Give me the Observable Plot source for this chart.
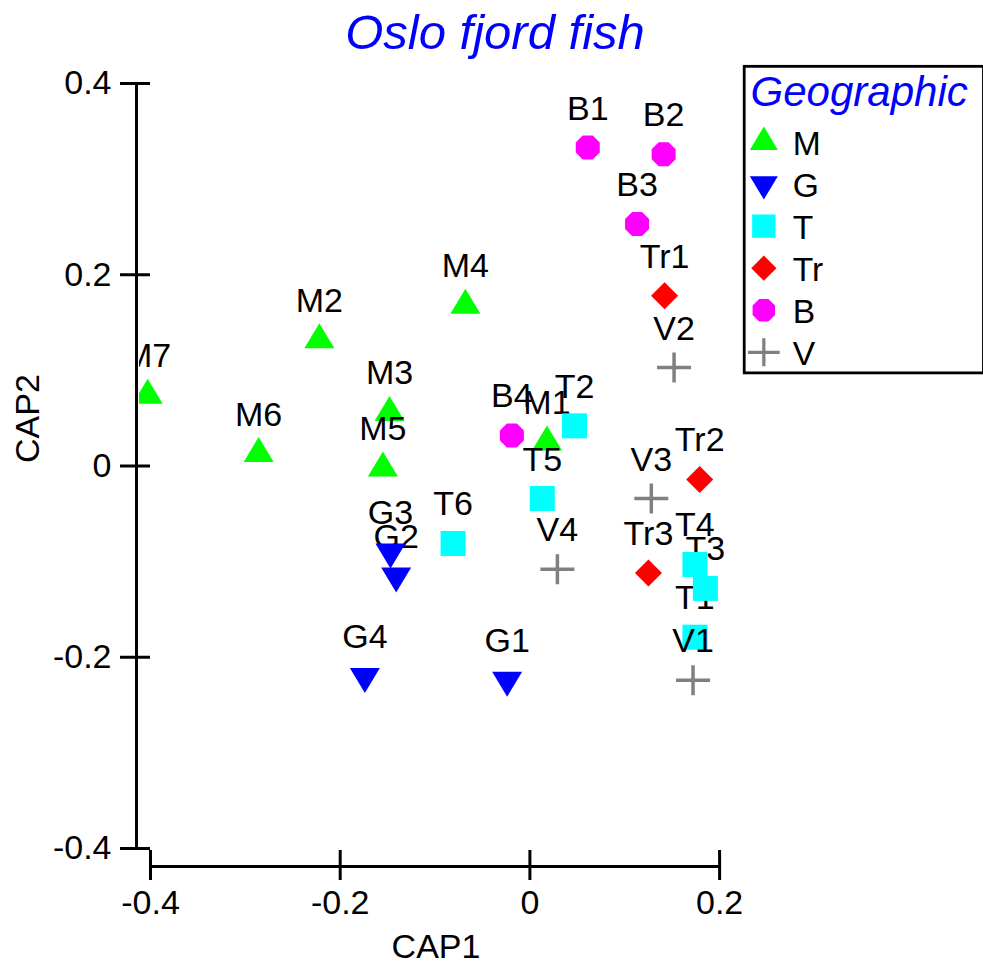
<!DOCTYPE html>
<html><head><meta charset="utf-8">
<script src="https://cdn.jsdelivr.net/npm/d3@7"></script>
<script src="https://cdn.jsdelivr.net/npm/@observablehq/plot@0.6"></script>
<style>
html,body{margin:0;padding:0;background:#fff;overflow:hidden;width:983px;height:963px;}
#wrap{position:relative;width:983px;height:963px;overflow:hidden;}
#wrap svg{display:block;}
#legend{position:absolute;left:740px;top:64px;}
</style></head><body><div id="wrap"><div id="main"></div><div id="legend"></div></div>
<script>
// ---- data ----
const chartTitle = "Oslo fjord fish";
const xLabel = "CAP1";
const yLabel = "CAP2";
const legendTitle = "Geographic";
const groups = ["M", "G", "T", "Tr", "B", "V"];
const sampleNames = ["M1","M2","M3","M4","M5","M6","M7",
                     "G1","G2","G3","G4",
                     "T1","T2","T3","T4","T5","T6",
                     "Tr1","Tr2","Tr3",
                     "B1","B2","B3","B4",
                     "V1","V2","V3","V4"];
const sampleGroups = ["M","M","M","M","M","M","M",
                      "G","G","G","G",
                      "T","T","T","T","T","T",
                      "Tr","Tr","Tr",
                      "B","B","B","B",
                      "V","V","V","V"];
const cap1 = [0.018,-0.222,-0.148,-0.068,-0.155,-0.286,-0.403,
              -0.024,-0.141,-0.147,-0.174,
              0.174,0.047,0.185,0.174,0.013,-0.081,
              0.142,0.179,0.125,
              0.061,0.141,0.113,-0.019,
              0.172,0.152,0.128,0.029];
const cap2 = [0.025,0.132,0.056,0.168,-0.002,0.013,0.074,
              -0.224,-0.115,-0.090,-0.220,
              -0.179,0.042,-0.128,-0.103,-0.034,-0.081,
              0.178,-0.014,-0.112,
              0.333,0.326,0.253,0.032,
              -0.224,0.103,-0.034,-0.108];
const xTicks = [-0.4, -0.2, 0, 0.2];
const yTicks = [-0.4, -0.2, 0, 0.2, 0.4];

// ---- styles ----
const groupColors = {M:"#00ff00", G:"#0000ff", T:"#00ffff", Tr:"#ff0000", B:"#ff00ff", V:"#808080"};
const triUp = {draw(c){ c.moveTo(0,-16.5); c.lineTo(15,8.5); c.lineTo(-15,8.5); c.closePath(); }};
const triDown = {draw(c){ c.moveTo(0,16.5); c.lineTo(15,-8.5); c.lineTo(-15,-8.5); c.closePath(); }};
const square = {draw(c){ c.rect(-12.5,-12.5,25,25); }};
const diamond = {draw(c){ c.moveTo(0,-13.5); c.lineTo(13.5,0); c.lineTo(0,13.5); c.lineTo(-13.5,0); c.closePath(); }};
const octagon = {draw(c){ for(let i=0;i<8;i++){ const a=(22.5+45*i)*Math.PI/180; const px=13*Math.cos(a), py=13*Math.sin(a); if(i) c.lineTo(px,py); else c.moveTo(px,py);} c.closePath(); }};
const plus = {draw(c){ c.moveTo(-17,0); c.lineTo(17,0); c.moveTo(0,-15); c.lineTo(0,15); }};
const symbolOf = {M: triUp, G: triDown, T: square, Tr: diamond, B: octagon, V: plus};
function styleOf(g){
  return g === "V" ? {fill: "none", stroke: groupColors[g], strokeWidth: 3.5}
                   : {fill: groupColors[g], stroke: "none"};
}
const font = "'Liberation Sans', Arial, Helvetica, sans-serif";
const fmt = d => String(d);

const rows = sampleNames.map((name, i) => ({name, group: sampleGroups[i], x: cap1[i], y: cap2[i]}));

const pointMarks = rows.flatMap(r => [
  Plot.dot([r], {x: "x", y: "y", symbol: symbolOf[r.group], ...styleOf(r.group), clip: true}),
  Plot.text([r], {x: "x", y: "y", text: "name", dy: -28, lineAnchor: "bottom", fontSize: 34, fill: "black", clip: true})
]);

const main = Plot.plot({
  width: 983,
  height: 963,
  marginLeft: 139,
  marginRight: 251,
  marginTop: 83,
  marginBottom: 115,
  x: {domain: [-0.4116, 0.2136]},
  y: {domain: [-0.4, 0.4]},
  style: {fontFamily: font, background: "white", color: "black", overflow: "visible"},
  marks: [
    Plot.ruleX([xTicks[0]], {y1: yTicks[0], y2: yTicks[yTicks.length - 1], dx: -14, strokeWidth: 3, stroke: "black"}),
    Plot.ruleY([yTicks[0]], {x1: xTicks[0], x2: xTicks[xTicks.length - 1], dy: 18, strokeWidth: 3, stroke: "black"}),
    Plot.axisY({ticks: yTicks, anchor: "left", tickSize: 30, tickPadding: 9, dx: 11, tickFormat: fmt, fontSize: 34, strokeWidth: 3, label: null}),
    Plot.axisX({ticks: xTicks, anchor: "bottom", tickSize: 30, tickPadding: 9, dy: 2, tickFormat: fmt, fontSize: 34, strokeWidth: 3, label: null}),
    Plot.text([xLabel], {frameAnchor: "bottom", dy: 109, lineAnchor: "bottom", fontSize: 34, fill: "black"}),
    Plot.text([yLabel], {frameAnchor: "left", dx: -111, dy: -3, rotate: -90, lineAnchor: "middle", fontSize: 34, fill: "black"}),
    Plot.text([chartTitle], {frameAnchor: "top", dx: 59, dy: -35, lineAnchor: "bottom", fontSize: 49, fontStyle: "italic", fill: "#0000ff"}),
    ...pointMarks
  ]
});
document.getElementById("main").appendChild(main);

const legend = Plot.plot({
  width: 260,
  height: 332,
  marginLeft: 4,
  marginTop: 2,
  marginBottom: 2,
  marginRight: 0,
  y: {type: "point", domain: groups, range: [82, 308], padding: 0, axis: null},
  style: {fontFamily: font, background: "transparent", color: "black", overflow: "visible"},
  marks: [
    Plot.frame({stroke: "black", strokeWidth: 3, fill: "white"}),
    Plot.text([legendTitle], {frameAnchor: "top-left", dx: 123, dy: 42, textAnchor: "middle", lineAnchor: "bottom", fontSize: 45, fontStyle: "italic", fill: "#0000ff"}),
    ...groups.map(g => Plot.dot([g], {y: d => d, frameAnchor: "left", dx: 21, symbol: symbolOf[g], ...styleOf(g)})),
    Plot.text(groups, {y: d => d, text: d => d, frameAnchor: "left", dx: 52, dy: 2, textAnchor: "start", lineAnchor: "middle", fontSize: 36, fill: "black"})
  ]
});
document.getElementById("legend").appendChild(legend);
</script>
</body></html>
